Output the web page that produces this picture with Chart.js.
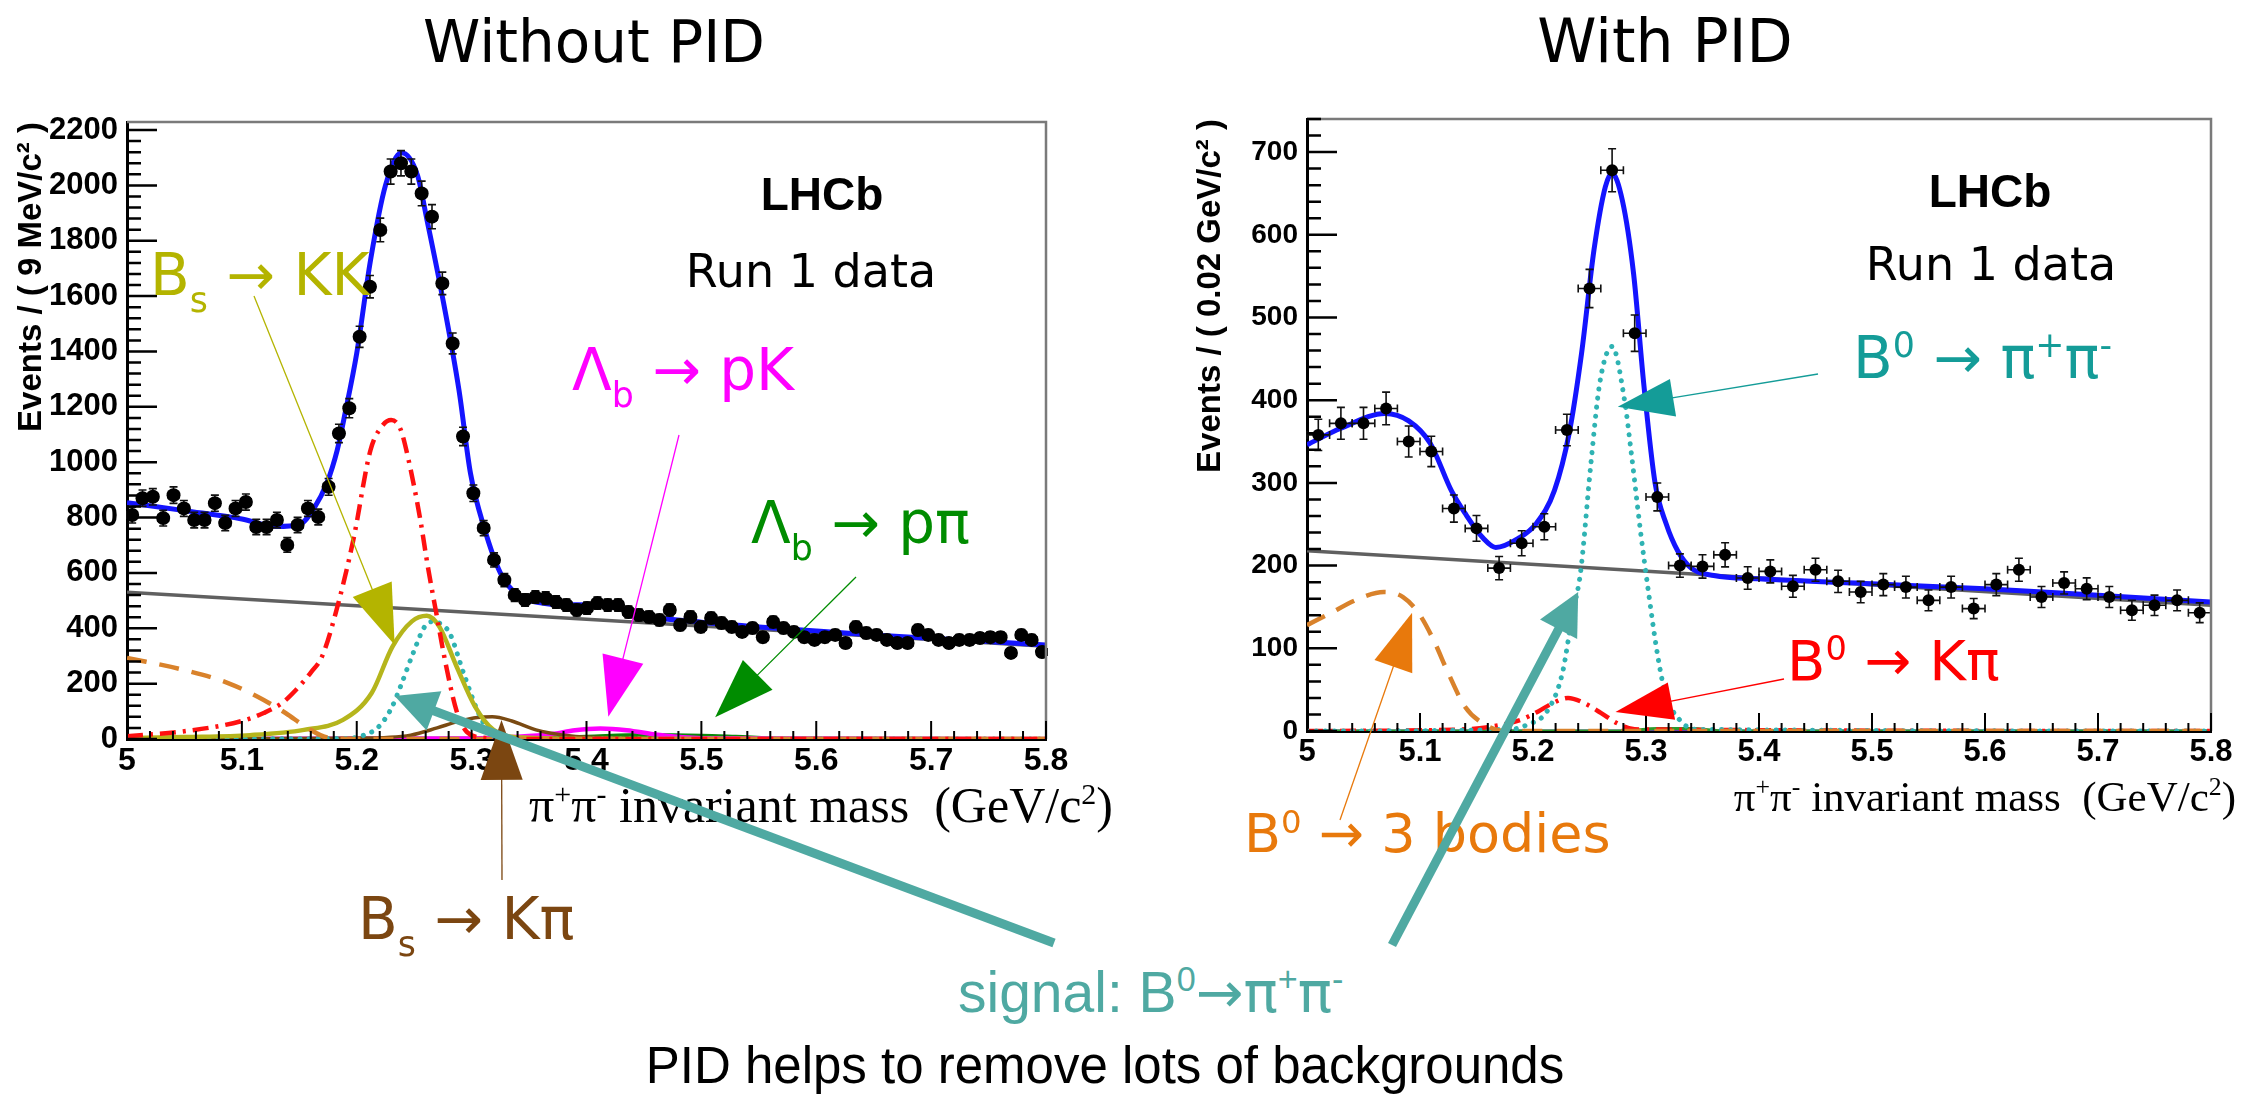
<!DOCTYPE html>
<html>
<head>
<meta charset="utf-8">
<script src="https://cdn.jsdelivr.net/npm/chart.js@4.4.1/dist/chart.umd.min.js"></script>
<style>
  html, body { margin: 0; padding: 0; background: #fff; }
  #page { position: relative; width: 2247px; height: 1099px; overflow: hidden; background: #fff; }
  canvas { position: absolute; }
  #left { left: 0; top: 0; z-index: 1; }
  #right { left: 1160px; top: 0; z-index: 1; }
  #overlay { left: 0; top: 0; z-index: 3; pointer-events: none; }
  .lbl { position: absolute; white-space: nowrap; z-index: 2; }
  .sup { font-size: 0.6em; position: relative; top: -0.6em; }
  .sub { font-size: 0.6em; position: relative; top: 0.5em; }
  .dv { font-family: "DejaVu Sans"; }
</style>
</head>
<body>
<div id="page">
  <canvas id="left" width="1120" height="900"></canvas>
  <canvas id="right" width="1087" height="900"></canvas>
  <canvas id="overlay" width="2247" height="1099"></canvas>
</div>
<script>
// ---------- axis ticks ----------
const xTicks = [5, 5.1, 5.2, 5.3, 5.4, 5.5, 5.6, 5.7, 5.8];
const xTickLabels = ['5', '5.1', '5.2', '5.3', '5.4', '5.5', '5.6', '5.7', '5.8'];
const yTicksL = [0, 200, 400, 600, 800, 1000, 1200, 1400, 1600, 1800, 2000, 2200];
const yTicksR = [0, 100, 200, 300, 400, 500, 600, 700];

// ---------- left panel: without PID, 9 MeV bins ----------
const binStartL = 5.0;
const binWidthL = 0.009;
const eventsL = [809, 870, 875, 798, 881, 833, 791, 791, 852, 780, 833, 856, 766, 766, 791, 701, 773, 833, 802,
  911, 1104, 1195, 1453, 1634, 1839, 2050, 2080, 2050, 1971, 1887, 1646, 1429, 1093, 888,
  762, 647, 574, 520, 502, 513,
  509, 495, 484, 466, 473, 491, 484, 484, 459, 448, 441, 430, 466, 412, 441, 405, 437, 419, 405, 387,
  401, 368, 423, 401, 387, 368, 358, 368, 376, 347, 405, 383, 376, 358, 347, 347, 394, 376, 358, 347,
  358, 358, 365, 368, 368, 311, 376, 358, 314];

const totalXL = [5.0, 5.05, 5.1, 5.13, 5.15, 5.163, 5.174, 5.183, 5.19, 5.2, 5.212, 5.225, 5.239, 5.253, 5.261, 5.274, 5.289, 5.299, 5.311, 5.325, 5.34, 5.36, 5.38, 5.41, 5.43, 5.45, 5.5, 5.55, 5.6, 5.65, 5.7, 5.75, 5.8];
const totalYL = [854, 825, 795, 768, 775, 835, 925, 1044, 1180, 1394, 1730, 2000, 2118, 2035, 1878, 1610, 1260, 960, 762, 600, 520, 492, 485, 484, 470, 445, 422, 405, 390, 376, 364, 352, 340];
const combXL = [5.0, 5.8];
const combYL = [530, 335];
const kpiXL = [5.0, 5.05, 5.1, 5.119, 5.135, 5.147, 5.16, 5.17, 5.182, 5.197, 5.212, 5.222, 5.23, 5.238, 5.245, 5.255, 5.262, 5.269, 5.278, 5.287, 5.296, 5.31, 5.35, 5.8];
const kpiYL = [10, 28, 65, 94, 130, 177, 240, 300, 460, 719, 1044, 1130, 1152, 1120, 1010, 800, 620, 460, 260, 100, 25, 5, 0, 0];
const threeBodyXL = [5.0, 5.05, 5.088, 5.119, 5.138, 5.157, 5.175, 5.2, 5.8];
const threeBodyYL = [293, 249, 202, 141, 94, 40, 5, 0, 0];
const kkXL = [5.0, 5.05, 5.107, 5.154, 5.188, 5.213, 5.231, 5.248, 5.261, 5.272, 5.287, 5.303, 5.319, 5.345, 5.4, 5.8];
const kkYL = [3, 7, 14, 33, 69, 166, 333, 425, 445, 405, 261, 117, 33, 5, 0, 0];
const pipiXL = [5.0, 5.19, 5.205, 5.219, 5.23, 5.238, 5.25, 5.259, 5.267, 5.275, 5.281, 5.293, 5.306, 5.319, 5.335, 5.8];
const pipiYL = [0, 2, 12, 44, 110, 189, 320, 405, 425, 410, 382, 238, 94, 10, 0, 0];
const bsKpiXL = [5.0, 5.2, 5.247, 5.27, 5.287, 5.305, 5.318, 5.335, 5.356, 5.38, 5.41, 5.45, 5.8];
const bsKpiYL = [0, 3, 14, 40, 62, 78, 80, 65, 33, 14, 5, 0, 0];
const lbPKXL = [5.0, 5.3, 5.34, 5.37, 5.39, 5.412, 5.435, 5.462, 5.5, 5.8];
const lbPKYL = [0, 2, 8, 18, 32, 38, 32, 15, 3, 0];
const lbPPiXL = [5.0, 5.35, 5.4, 5.45, 5.5, 5.53, 5.57, 5.8];
const lbPPiYL = [0, 2, 8, 14, 12, 8, 2, 0];

// ---------- right panel: with PID, 20 MeV bins ----------
const binStartR = 5.0;
const binWidthR = 0.02;
const eventsR = [358, 372, 372, 390, 350, 338, 269, 245, 197, 227, 247, 364, 535, 678, 481, 283, 200, 199, 213, 185,
  193, 175, 195, 181, 168, 177, 174, 158, 174, 148, 177, 195, 162, 179, 172, 162, 146, 152, 158, 143];

const totalXR = [5.0, 5.03, 5.069, 5.09, 5.109, 5.128, 5.14, 5.156, 5.167, 5.187, 5.203, 5.219, 5.232, 5.243, 5.254, 5.264, 5.27, 5.279, 5.289, 5.298, 5.308, 5.318, 5.328, 5.34, 5.36, 5.4, 5.5, 5.6, 5.7, 5.8];
const totalYR = [346, 366, 384, 375, 348, 290, 263, 233, 222, 233, 251, 291, 360, 457, 582, 658, 674, 642, 553, 420, 300, 250, 218, 197, 188, 184, 178, 172, 164, 156];
const combXR = [5.0, 5.8];
const combYR = [218, 152];
const threeBodyXR = [5.0, 5.02, 5.046, 5.068, 5.085, 5.099, 5.112, 5.125, 5.14, 5.156, 5.175, 5.8];
const threeBodyYR = [128, 142, 160, 168, 162, 142, 110, 70, 29, 9, 0, 0];
const pipiXR = [5.0, 5.18, 5.194, 5.213, 5.226, 5.235, 5.242, 5.251, 5.259, 5.27, 5.281, 5.287, 5.295, 5.302, 5.31, 5.317, 5.33, 5.345, 5.8];
const pipiYR = [0, 2, 7, 25, 70, 142, 191, 320, 420, 465, 400, 336, 243, 170, 94, 46, 13, 2, 0];
const kpiXR = [5.0, 5.14, 5.17, 5.19, 5.205, 5.218, 5.231, 5.245, 5.26, 5.275, 5.29, 5.8];
const kpiYR = [0, 2, 7, 14, 24, 34, 40, 34, 22, 9, 2, 0];
const otherXR = [5.0, 5.28, 5.31, 5.34, 5.37, 5.8];
const otherYR = [0, 0, 3, 3, 0, 0];

const zeroX = [5.0, 5.8];
const zeroY = [0, 0];

Chart.defaults.font.family = 'Liberation Sans';

function points(start, width, counts) {
  return counts.map((n, i) => ({ x: start + width * (i + 0.5), y: n }));
}

function curve(xs, ys, color, width, dash, order) {
  return {
    data: xs.map((x, i) => ({ x: x, y: ys[i] })),
    showLine: true,
    pointRadius: 0,
    borderColor: color,
    borderWidth: width,
    borderDash: dash || [],
    borderCapStyle: dash && dash[0] < 1 ? 'round' : 'butt',
    cubicInterpolationMode: 'monotone',
    order: order
  };
}

// ROOT style frame: inward ticks, grey top/right frame, error bars
const rootAxes = {
    id: 'rootAxes',
    beforeDatasetDraw(chart, args) {
        const ds = chart.data.datasets[args.index];
        if (!ds.halfBin) return;
        const ctx = chart.ctx;
        const x = chart.scales.x, y = chart.scales.y;
        ctx.save();
        ctx.strokeStyle = '#111';
        ctx.lineWidth = 1.6;
        ds.data.forEach(p => {
            const e = Math.sqrt(p.y);
            const px = x.getPixelForValue(p.x), py = y.getPixelForValue(p.y);
            const t = y.getPixelForValue(p.y + e), b = y.getPixelForValue(p.y - e);
            const l = x.getPixelForValue(p.x - ds.halfBin), r = x.getPixelForValue(p.x + ds.halfBin);
            const c = ds.cap;
            ctx.beginPath();
            ctx.moveTo(px, t); ctx.lineTo(px, b);
            ctx.moveTo(l, py); ctx.lineTo(r, py);
            ctx.moveTo(px - c, t); ctx.lineTo(px + c, t);
            ctx.moveTo(px - c, b); ctx.lineTo(px + c, b);
            ctx.moveTo(l, py - c); ctx.lineTo(l, py + c);
            ctx.moveTo(r, py - c); ctx.lineTo(r, py + c);
            ctx.stroke();
        });
        ctx.restore();
    },
    afterDraw(chart, args, opts) {
        const ctx = chart.ctx;
        const a = chart.chartArea;
        const x = chart.scales.x, y = chart.scales.y;
        ctx.save();
        ctx.strokeStyle = '#7a7a7a';
        ctx.lineWidth = 2.5;
        ctx.beginPath();
        ctx.moveTo(a.left, a.top);
        ctx.lineTo(a.right, a.top);
        ctx.lineTo(a.right, a.bottom);
        ctx.stroke();

        ctx.strokeStyle = '#000';
        ctx.lineWidth = 2.5;
        ctx.beginPath();
        for (let k = 0; k * opts.yMinor <= y.max; k++) {
            const py = y.getPixelForValue(k * opts.yMinor);
            const len = k % 5 === 0 ? 30 : 14;
            ctx.moveTo(a.left, py);
            ctx.lineTo(a.left + len, py);
        }
        ctx.stroke();
        ctx.lineWidth = 2;
        ctx.beginPath();
        for (let k = 0; k <= 40; k++) {
            const px = x.getPixelForValue(5 + k * 0.02);
            const len = k % 5 === 0 ? 18 : 8;
            ctx.moveTo(px, a.bottom);
            ctx.lineTo(px, a.bottom - len);
        }
        ctx.stroke();
        ctx.restore();
    }
};

function panel(canvas, cfg) {
    return new Chart(canvas, {
        type: 'scatter',
        data: { datasets: cfg.datasets },
        options: {
            responsive: false,
            animation: false,
            events: [],
            layout: { padding: { top: cfg.top, right: cfg.padRight, left: 0, bottom: 0 } },
            plugins: {
                legend: { display: false },
                tooltip: { enabled: false },
                rootAxes: { yMinor: cfg.yMinor }
            },
            scales: {
                x: {
                    type: 'linear',
                    min: 5,
                    max: 5.8,
                    grid: { display: false, drawTicks: false },
                    border: { display: true, color: '#000', width: 3 },
                    afterBuildTicks: s => { s.ticks = xTicks.map(v => ({ value: v })); },
                    afterFit: s => { s.height = cfg.xHeight; },
                    ticks: {
                        autoSkip: false, maxRotation: 0, padding: 3, color: '#000',
                        font: { weight: 'bold', size: cfg.xFont },
                        callback: (v, i) => xTickLabels[i]
                    }
                },
                y: {
                    type: 'linear',
                    min: 0,
                    max: cfg.yMax,
                    grid: { display: false, drawTicks: false },
                    border: { display: true, color: '#000', width: 3 },
                    afterBuildTicks: s => { s.ticks = cfg.yTicks.map(v => ({ value: v })); },
                    afterFit: s => { s.width = cfg.yWidth; },
                    ticks: {
                        padding: 9, color: '#000',
                        font: { weight: 'bold', size: cfg.yFont },
                        callback: v => String(v)
                    },
                    title: {
                        display: true, text: cfg.yTitle, align: 'end', color: '#000',
                        font: { family: 'Liberation Sans', weight: 'bold', size: 33 },
                        padding: { top: cfg.titlePad, bottom: 0 }
                    }
                }
            }
        },
        plugins: [rootAxes]
    });
}

const dataL = points(binStartL, binWidthL, eventsL);
const chartL = panel(document.getElementById('left'), {
    top: 122, padRight: 74, xHeight: 161, yWidth: 127, yMax: 2229, yMinor: 40,
    yTicks: yTicksL, xFont: 32, yFont: 31, titlePad: 12,
    yTitle: 'Events / ( 9 MeV/c² )',
    datasets: [
        { data: dataL, pointRadius: 7, pointBackgroundColor: '#000', pointBorderWidth: 0, showLine: false,
          halfBin: binWidthL / 2, cap: 4, order: 0 },
        curve(totalXL, totalYL, '#1414ff', 5, null, 1),
        curve(combXL, combYL, '#606060', 3.5, null, 3),
        curve(kpiXL, kpiYL, '#ff1010', 4.5, [16, 7, 3, 7], 2),
        curve(threeBodyXL, threeBodyYL, '#d9822b', 4.5, [20, 13], 2),
        curve(kkXL, kkYL, '#b5b51c', 4.5, null, 2),
        curve(pipiXL, pipiYL, '#2fb3b3', 5, [0.1, 9], 2),
        curve(bsKpiXL, bsKpiYL, '#7a4a12', 3.5, null, 2),
        curve(lbPKXL, lbPKYL, '#ff00ff', 4.5, null, 2),
        curve(lbPPiXL, lbPPiYL, '#0a8a0a', 4, null, 2),
        curve(zeroX, zeroY, '#8a3ca8', 3, null, 2)
    ]
});

const dataR = points(binStartR, binWidthR, eventsR);
const chartR = panel(document.getElementById('right'), {
    top: 119, padRight: 36, xHeight: 169, yWidth: 147, yMax: 740, yMinor: 20,
    yTicks: yTicksR, xFont: 31, yFont: 28, titlePad: 31,
    yTitle: 'Events / ( 0.02 GeV/c² )',
    datasets: [
        { data: dataR, pointRadius: 6, pointBackgroundColor: '#000', pointBorderWidth: 0, showLine: false,
          halfBin: binWidthR / 2, cap: 4, order: 0 },
        curve(totalXR, totalYR, '#1414ff', 5, null, 1),
        curve(combXR, combYR, '#606060', 3.5, null, 3),
        curve(threeBodyXR, threeBodyYR, '#d9822b', 4.5, [20, 13], 2),
        curve(pipiXR, pipiYR, '#2fb3b3', 5, [0.1, 9], 2),
        curve(kpiXR, kpiYR, '#ff1010', 4.5, [16, 7, 3, 7], 2),
        curve(otherXR, otherYR, '#2a9a2a', 3, null, 2),
        curve(zeroX, zeroY, '#6a3ca8', 3, null, 2)
    ]
});

// ---------- text annotations ----------
const page = document.getElementById('page');
const DV = '"DejaVu Sans"';
const LS = '"Liberation Sans"';
const SERIF = '"Liberation Serif"';

function addLabel(html, x, base, size, family, color, align, weight) {
    const d = document.createElement('div');
    d.className = 'lbl';
    d.innerHTML = html;
    d.style.font = (weight || 'normal') + ' ' + size + 'px ' + family;
    d.style.lineHeight = '1';
    d.style.color = color;
    d.style.left = x + 'px';
    d.style.top = (base - 0.845 * size) + 'px';
    if (align === 'center') d.style.transform = 'translateX(-50%)';
    if (align === 'right') d.style.transform = 'translateX(-100%)';
    page.appendChild(d);
}

const xTitle = 'π<span class="sup">+</span>π<span class="sup">-</span> invariant mass&nbsp; (GeV/c<span class="sup">2</span>)';

addLabel('Without PID', 594, 62, 58, DV, '#000', 'center');
addLabel('With PID', 1665, 62, 60, DV, '#000', 'center');
addLabel('LHCb', 822, 210, 46, LS, '#000', 'center', 'bold');
addLabel('LHCb', 1990, 207, 46, LS, '#000', 'center', 'bold');
addLabel('Run 1 data', 811, 287, 46, DV, '#000', 'center');
addLabel('Run 1 data', 1991, 280, 46, DV, '#000', 'center');
addLabel(xTitle, 1113, 822, 50, SERIF, '#000', 'right');
addLabel(xTitle, 2236, 811, 43, SERIF, '#000', 'right');
addLabel('B<span class="sub">s</span> → KK', 150, 295, 58, DV, '#b4b400');
addLabel('Λ<span class="sub">b</span> → pK', 572, 390, 58, DV, '#ff00ff');
addLabel('Λ<span class="sub">b</span> → pπ', 751, 543, 58, DV, '#008c00');
addLabel('B<span class="sub">s</span> → Kπ', 358, 939, 58, DV, '#7b4611');
addLabel('B<span class="sup">0</span> → π<span class="sup">+</span>π<span class="sup">-</span>', 1853, 378, 58, DV, '#149c98');
addLabel('B<span class="sup">0</span> → Kπ', 1787, 680, 56, DV, '#ff0000');
addLabel('B<span class="sup">0</span> → 3 bodies', 1244, 853, 54, DV, '#e8790c');
addLabel('signal: B<span class="sup">0</span><span class="dv">→π</span><span class="sup">+</span><span class="dv">π</span><span class="sup">-</span>', 958, 1012, 57, LS, '#4fa9a2');
addLabel('PID helps to remove lots of backgrounds', 1105, 1083, 51, LS, '#000', 'center');

// ---------- arrows: tip in data coordinates, tail in page pixels ----------
const arrows = [
    { chart: chartL, off: 0, tip: [5.233, 340], tail: [254, 296], color: '#b4b400', lw: 1.3, len: 60, half: 21 },
    { chart: chartL, off: 0, tip: [5.326, 69], tail: [502, 880], color: '#7b4611', lw: 1.3, len: 60, half: 21 },
    { chart: chartL, off: 0, tip: [5.419, 80], tail: [679, 435], color: '#ff00ff', lw: 1.3, len: 60, half: 21 },
    { chart: chartL, off: 0, tip: [5.512, 79], tail: [856, 577], color: '#008c00', lw: 1.3, len: 60, half: 21 },
    { chart: chartL, off: 0, tip: [5.233, 155], tail: [1054, 943], color: '#4fa9a2', lw: 9, len: 42, half: 21 },
    { chart: chartR, off: 1160, tip: [5.240, 168], tail: [1392, 945], color: '#4fa9a2', lw: 9, len: 42, half: 21 },
    { chart: chartR, off: 1160, tip: [5.093, 143], tail: [1340, 820], color: '#e8790c', lw: 1.3, len: 57, half: 20 },
    { chart: chartR, off: 1160, tip: [5.273, 23], tail: [1784, 679], color: '#ff0000', lw: 1.3, len: 57, half: 19 },
    { chart: chartR, off: 1160, tip: [5.275, 392], tail: [1818, 374], color: '#149c98', lw: 1.3, len: 56, half: 19 }
];

const octx = document.getElementById('overlay').getContext('2d');
arrows.forEach(a => {
    const tx = a.off + a.chart.scales.x.getPixelForValue(a.tip[0]);
    const ty = a.chart.scales.y.getPixelForValue(a.tip[1]);
    const dx = tx - a.tail[0], dy = ty - a.tail[1];
    const d = Math.hypot(dx, dy);
    const ux = dx / d, uy = dy / d;
    const bx = tx - ux * a.len, by = ty - uy * a.len;
    octx.strokeStyle = a.color;
    octx.fillStyle = a.color;
    octx.lineWidth = a.lw;
    octx.beginPath();
    octx.moveTo(a.tail[0], a.tail[1]);
    octx.lineTo(bx + ux * 4, by + uy * 4);
    octx.stroke();
    octx.beginPath();
    octx.moveTo(tx, ty);
    octx.lineTo(bx - uy * a.half, by + ux * a.half);
    octx.lineTo(bx + uy * a.half, by - ux * a.half);
    octx.closePath();
    octx.fill();
});
</script>
</body>
</html>
